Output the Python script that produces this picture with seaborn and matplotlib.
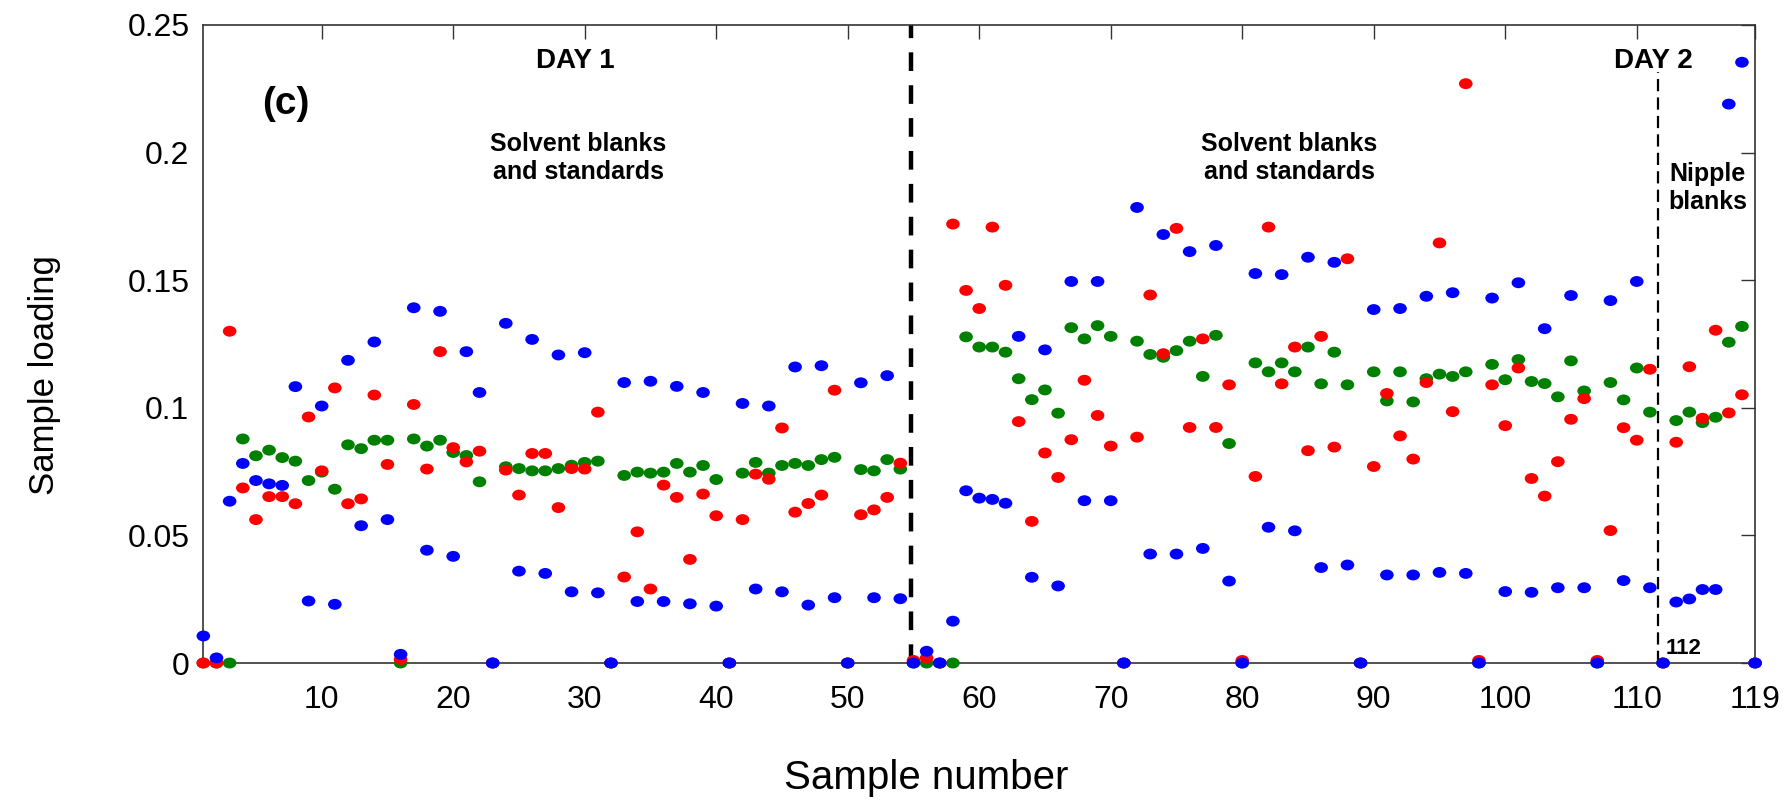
import numpy as np
import pandas as pd
import matplotlib
matplotlib.use("Agg")
import matplotlib.pyplot as plt
import matplotlib.ticker as mtick
from matplotlib.path import Path
from matplotlib.transforms import Affine2D
import seaborn as sns

# sample numbers 1..119, loadings
sample = list(range(1, 120))

green = [0, 0, 0, 0.0878, 0.0812, 0.0834, 0.0805, 0.0791, 0.0715, 0.0748,
         0.0681, 0.0855, 0.0840, 0.0873, 0.0873, 0, 0.0878, 0.0850, 0.0873, 0.0825,
         0.0813, 0.0710, 0, 0.0769, 0.0762, 0.0753, 0.0753, 0.0762, 0.0775, 0.0786,
         0.0791, 0, 0.0735, 0.0748, 0.0744, 0.0748, 0.0782, 0.0748, 0.0774, 0.0719,
         0, 0.0744, 0.0786, 0.0744, 0.0774, 0.0782, 0.0774, 0.0797, 0.0806, 0,
         0.0758, 0.0753, 0.0797, 0.0760, 0, 0, 0, 0, 0.1278, 0.1238,
         0.1238, 0.1218, 0.1114, 0.1032, 0.1070, 0.0979, 0.1314, 0.1270, 0.1322, 0.1280,
         0, 0.1261, 0.1209, 0.1198, 0.1224, 0.1261, 0.1123, 0.1284, 0.0860, 0,
         0.1176, 0.1141, 0.1176, 0.1141, 0.1238, 0.1094, 0.1218, 0.1090, 0, 0.1141,
         0.1027, 0.1141, 0.1023, 0.1114, 0.1132, 0.1123, 0.1141, 0, 0.1170, 0.1110,
         0.1189, 0.1103, 0.1095, 0.1043, 0.1184, 0.1066, 0, 0.1099, 0.1031, 0.1156,
         0.0983, 0, 0.0950, 0.0983, 0.0942, 0.0963, 0.1257, 0.1319, 0]

red = [0, 0, 0.1300, 0.0686, 0.0562, 0.0652, 0.0652, 0.0624, 0.0964, 0.0753,
       0.1078, 0.0624, 0.0643, 0.1050, 0.0778, 0.0014, 0.1013, 0.0760, 0.1220, 0.0844,
       0.0788, 0.0830, 0, 0.0756, 0.0658, 0.0821, 0.0821, 0.0609, 0.0762, 0.0760,
       0.0983, 0, 0.0337, 0.0514, 0.0290, 0.0697, 0.0649, 0.0406, 0.0662, 0.0577,
       0, 0.0562, 0.0740, 0.0720, 0.0921, 0.0591, 0.0625, 0.0658, 0.1069, 0,
       0.0581, 0.0600, 0.0649, 0.0783, 0.0010, 0.0020, 0, 0.1720, 0.1460, 0.1389,
       0.1708, 0.1480, 0.0946, 0.0555, 0.0823, 0.0727, 0.0875, 0.1108, 0.0970, 0.0850,
       0, 0.0885, 0.1442, 0.1212, 0.1703, 0.0923, 0.1270, 0.0923, 0.1090, 0.0010,
       0.0731, 0.1708, 0.1094, 0.1238, 0.0832, 0.1280, 0.0846, 0.1584, 0, 0.0770,
       0.1056, 0.0890, 0.0799, 0.1099, 0.1646, 0.0985, 0.2270, 0.0010, 0.1090, 0.0930,
       0.1156, 0.0723, 0.0654, 0.0789, 0.0955, 0.1036, 0.0010, 0.0519, 0.0922, 0.0873,
       0.1151, 0, 0.0865, 0.1161, 0.0959, 0.1304, 0.0980, 0.1051, 0]

blue = [0.0106, 0.0020, 0.0634, 0.0782, 0.0715, 0.0702, 0.0696, 0.1083, 0.0243, 0.1007,
        0.0230, 0.1186, 0.0538, 0.1258, 0.0562, 0.0034, 0.1392, 0.0442, 0.1378, 0.0418,
        0.1220, 0.1060, 0, 0.1331, 0.0360, 0.1268, 0.0351, 0.1207, 0.0279, 0.1216,
        0.0275, 0, 0.1099, 0.0241, 0.1104, 0.0241, 0.1084, 0.0232, 0.1060, 0.0223,
        0, 0.1017, 0.0290, 0.1007, 0.0279, 0.1160, 0.0227, 0.1165, 0.0256, 0,
        0.1098, 0.0256, 0.1126, 0.0252, 0, 0.0046, 0, 0.0164, 0.0675, 0.0646,
        0.0641, 0.0626, 0.1280, 0.0336, 0.1227, 0.0302, 0.1495, 0.0636, 0.1495, 0.0636,
        0, 0.1785, 0.0427, 0.1679, 0.0427, 0.1612, 0.0449, 0.1636, 0.0321, 0,
        0.1526, 0.0532, 0.1522, 0.0518, 0.1590, 0.0374, 0.1570, 0.0384, 0, 0.1385,
        0.0345, 0.1389, 0.0345, 0.1437, 0.0355, 0.1451, 0.0351, 0, 0.1430, 0.0280,
        0.1490, 0.0277, 0.1310, 0.0295, 0.1440, 0.0295, 0, 0.1420, 0.0323, 0.1495,
        0.0295, 0, 0.0239, 0.0251, 0.0288, 0.0288, 0.2190, 0.2354, 0]

xticks = [10, 20, 30, 40, 50, 60, 70, 80, 90, 100, 110, 119]
yticks = [0, 0.05, 0.1, 0.15, 0.2, 0.25]

# green drawn first, blue last (blue sits on top)
df = pd.concat([
    pd.DataFrame({"sample": sample, "loading": green, "series": "g"}),
    pd.DataFrame({"sample": sample, "loading": red, "series": "r"}),
    pd.DataFrame({"sample": sample, "loading": blue, "series": "b"}),
], ignore_index=True)
colors = {"g": "#008000", "r": "#ff0000", "b": "#0000ff"}

sns.set_style("white")
plt.rcParams["font.family"] = ["Liberation Sans", "DejaVu Sans"]
plt.rcParams["text.color"] = "black"
plt.rcParams["axes.labelcolor"] = "black"

fig = plt.figure(figsize=(17.9, 8.06), dpi=100)
ax = fig.add_axes([0.1136, 0.1774, 0.8669, 0.7916])

# points are slightly flattened ellipses
ellipse = Affine2D().scale(1.0, 0.8).transform_path(Path.unit_circle())
sns.scatterplot(data=df, x="sample", y="loading", hue="series", palette=colors,
                marker=ellipse, s=96, linewidth=0, edgecolor="none",
                legend=False, clip_on=False, ax=ax, zorder=3)

ax.set_xlim(1, 119)
ax.set_ylim(0, 0.25)
ax.set_xticks(xticks)
ax.set_yticks(yticks)
ax.yaxis.set_major_formatter(mtick.FuncFormatter(lambda v, pos: "%g" % v))
ax.tick_params(direction="in", length=10, width=1, top=True, right=True,
               labelsize=23, color="#333333", labelcolor="black")
ax.tick_params(axis="x", pad=16)
ax.tick_params(axis="y", pad=10)
for sp in ax.spines.values():
    sp.set_color("#333333")
    sp.set_linewidth(1.2)

ax.set_xlabel("Sample number", fontsize=29)
ax.xaxis.set_label_coords(0.466, -0.151)
ax.set_ylabel("Sample loading", fontsize=25)
ax.yaxis.set_label_coords(-0.092, 0.452)

# day separators
ax.plot([54.85, 54.85], [0, 0.25], color="black", lw=3.2, dashes=(4.2, 3.2), zorder=2, clip_on=False)
ax.plot([111.6, 111.6], [0, 0.2316], color="black", lw=1.6, dashes=(5.5, 2.8), zorder=2)

ax.text(29.3, 0.2357, "DAY 1", fontsize=20, fontweight="bold", ha="center", va="center")
ax.text(111.3, 0.2357, "DAY 2", fontsize=20, fontweight="bold", ha="center", va="center")
ax.text(7.3, 0.219, "(c)", fontsize=28, fontweight="bold", ha="center", va="center")
ax.text(29.5, 0.198, "Solvent blanks\nand standards", fontsize=18, fontweight="bold",
        ha="center", va="center", multialignment="center")
ax.text(83.6, 0.198, "Solvent blanks\nand standards", fontsize=18, fontweight="bold",
        ha="center", va="center", multialignment="center")
ax.text(115.4, 0.186, "Nipple\nblanks", fontsize=18, fontweight="bold",
        ha="center", va="center", multialignment="center")
ax.text(112.2, 0.0015, "112", fontsize=16, fontweight="bold", ha="left", va="bottom")

fig.savefig("out.png", dpi=100)
